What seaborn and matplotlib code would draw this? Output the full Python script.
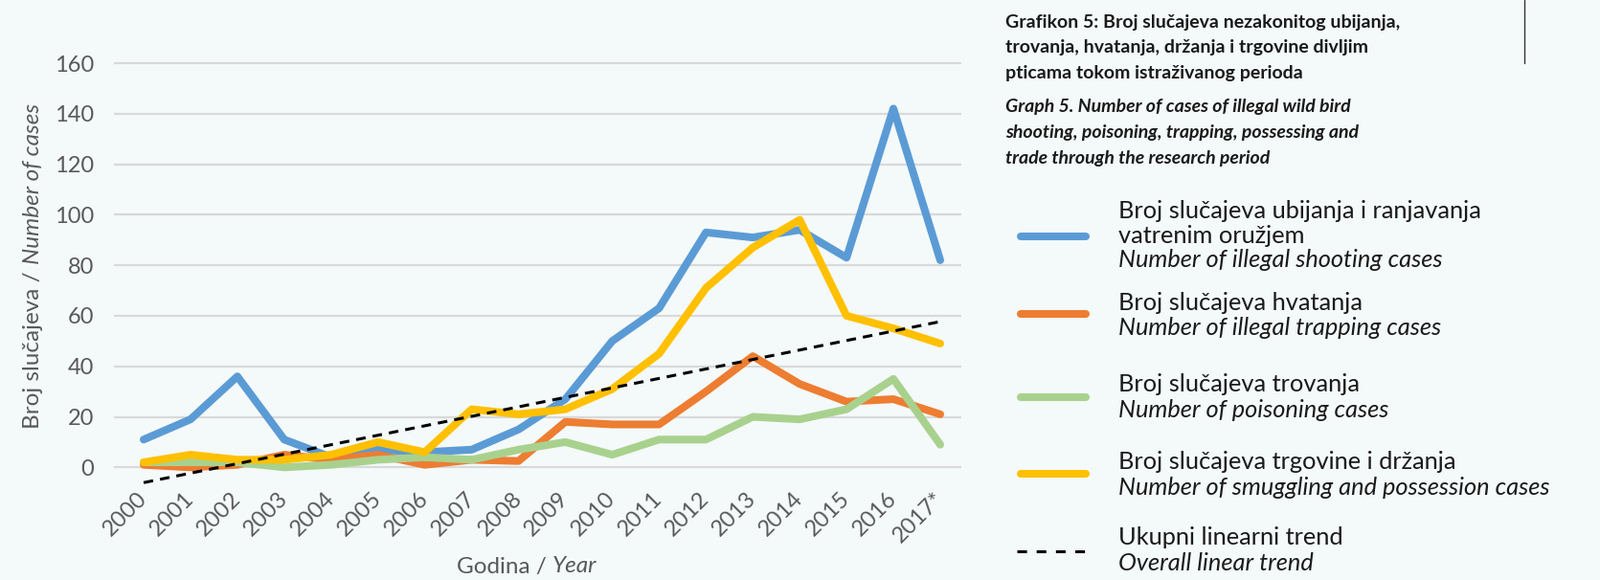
import numpy as np
import pandas as pd
import matplotlib
matplotlib.use("Agg")
import matplotlib.pyplot as plt
from matplotlib.lines import Line2D
import seaborn as sns

sns.set_style("white")
plt.rcParams['font.family'] = ['Lato', 'DejaVu Sans']

years = ['2000', '2001', '2002', '2003', '2004', '2005', '2006', '2007', '2008',
         '2009', '2010', '2011', '2012', '2013', '2014', '2015', '2016', '2017*']
shooting = [11, 19, 36, 11, 4, 7, 6, 7, 15, 27, 50, 63, 93, 91, 94, 83, 142, 82]
trapping = [1, 0, 1, 5, 3, 5, 1, 3, 2.5, 18, 17, 17, 30, 44, 33, 26, 27, 21]
poisoning = [2, 2, 2, 0, 1, 3, 4, 3, 7, 10, 5, 11, 11, 20, 19, 23, 35, 9]
trade = [2, 5, 3, 3, 5, 10, 6, 23, 21, 23, 31, 45, 71, 87, 98, 60, 55, 49]

series_names = ['shooting', 'trapping', 'poisoning', 'trade']
colors = ['#5B9BD5', '#ED7D31', '#A9D18E', '#FFC000']
legend_lines = [
    ['Broj slučajeva ubijanja i ranjavanja', 'vatrenim oružjem', 'Number of illegal shooting cases'],
    ['Broj slučajeva hvatanja', 'Number of illegal trapping cases'],
    ['Broj slučajeva trovanja', 'Number of poisoning cases'],
    ['Broj slučajeva trgovine i držanja', 'Number of smuggling and possession cases'],
    ['Ukupni linearni trend', 'Overall linear trend'],
]
title_bold = ['Grafikon 5: Broj slučajeva nezakonitog ubijanja,',
              'trovanja, hvatanja, držanja i trgovine divljim',
              'pticama tokom istraživanog perioda']
title_en = ['Graph 5. Number of cases of illegal wild bird',
            'shooting, poisoning, trapping, possessing and',
            'trade through the research period']

df = pd.DataFrame({
    'idx': np.tile(np.arange(len(years)), 4),
    'value': shooting + trapping + poisoning + trade,
    'series': np.repeat(series_names, len(years)),
})

W, H = 1671, 606
bg = '#F4F9F9'
text_gray = '#595959'

fig = plt.figure(figsize=(W / 100, H / 100), dpi=100, facecolor=bg)


def fx(px):
    return px / W


def fy(py):
    return 1 - py / H


# plot area: 0 at y=488.3px, 160 at y=66px
ymin, ymax = -8, 165
ppu = (488.3 - 66) / 160
bot_px = 488.3 + (-ymin) * ppu
top_px = 488.3 - ymax * ppu
ax = fig.add_axes([fx(119), fy(bot_px), fx(1004 - 119), (bot_px - top_px) / H])
ax.set_facecolor(bg)

sns.lineplot(data=df, x='idx', y='value', hue='series', hue_order=series_names,
             palette=colors, linewidth=5.8, legend=False, ax=ax,
             solid_capstyle='round', solid_joinstyle='round')

dash = (0, (3.3, 2.4))
sns.regplot(data=df, x='idx', y='value', scatter=False, ci=None, ax=ax,
            line_kws=dict(color='black', linewidth=2.2, linestyle=dash))

ax.set_xlim(-31 / 48.9, 17 + 22 / 48.9)
ax.set_ylim(ymin, ymax)
ax.set_yticks(range(0, 161, 20))
ax.set_xticks(range(len(years)))
ax.set_xticklabels(years, rotation=45, ha='right', va='center', rotation_mode='anchor')
ax.tick_params(axis='both', length=0, labelsize=17, labelcolor=text_gray)
ax.tick_params(axis='y', pad=15)
ax.tick_params(axis='x', pad=6)
ax.yaxis.grid(True, color='#D9D9D9', linewidth=1.6)
ax.xaxis.grid(False)
ax.set_axisbelow(True)
ax.set_xlabel('')
ax.set_ylabel('')
for s in ax.spines.values():
    s.set_visible(False)

renderer = fig.canvas.get_renderer()


def mixed_text(x_px, y_px, parts, rotation=0, size=17.5):
    texts = [fig.text(0, 0, s, style=st, rotation=rotation, fontsize=size,
                      color=text_gray) for s, st in parts]
    gap = 0.27 * size * 100 / 72
    if rotation == 0:
        widths = [t.get_window_extent(renderer).width for t in texts]
        pos = x_px - (sum(widths) + gap * (len(texts) - 1)) / 2
        for t, w in zip(texts, widths):
            t.set_position((fx(pos), fy(y_px)))
            t.set_ha('left')
            t.set_va('center')
            pos += w + gap
    else:
        heights = [t.get_window_extent(renderer).height for t in texts]
        pos = y_px + (sum(heights) + gap * (len(texts) - 1)) / 2
        for t, h in zip(texts, heights):
            t.set_position((fx(x_px), fy(pos)))
            t.set_ha('center')
            t.set_va('bottom')
            pos -= h + gap


mixed_text(34.5, 278, [('Broj slučajeva /', 'normal'), ('Number of cases', 'italic')], rotation=90)
mixed_text(550, 592, [('Godina /', 'normal'), ('Year', 'italic')])

# title block
for line, y in zip(title_bold, [23.4, 50, 76.7]):
    fig.text(fx(1050), fy(y), line, fontsize=14, fontweight='bold', va='center', color='#1a1a1a')
for line, y in zip(title_en, [112, 138.5, 166]):
    fig.text(fx(1050), fy(y), line, fontsize=14, fontweight='bold', style='italic',
             va='center', color='#1a1a1a')

fig.add_artist(Line2D([fx(1592)] * 2, [1, fy(66)], color='#333333', linewidth=1))

# legend
text_rows = [[220.6, 246, 271.8], [316.5, 343], [401.8, 428.4], [482.8, 509.4], [561.6, 588]]
handle_rows = [247, 328, 414.6, 494.5, 575.5]
for i, (lines, ys, hy) in enumerate(zip(legend_lines, text_rows, handle_rows)):
    if i < 4:
        fig.add_artist(Line2D([fx(1066), fx(1134)], [fy(hy)] * 2, color=colors[i],
                              linewidth=5.8, solid_capstyle='round'))
    else:
        fig.add_artist(Line2D([fx(1062), fx(1134)], [fy(hy)] * 2, color='black',
                              linewidth=2.2, linestyle=(0, (3.3, 3.3))))
    for j, (line, y) in enumerate(zip(lines, ys)):
        fig.text(fx(1168), fy(y), line, fontsize=18.3, va='center', color='#1a1a1a',
                 style='italic' if j == len(lines) - 1 else 'normal')

fig.savefig('out.png', dpi=100, facecolor=bg)
